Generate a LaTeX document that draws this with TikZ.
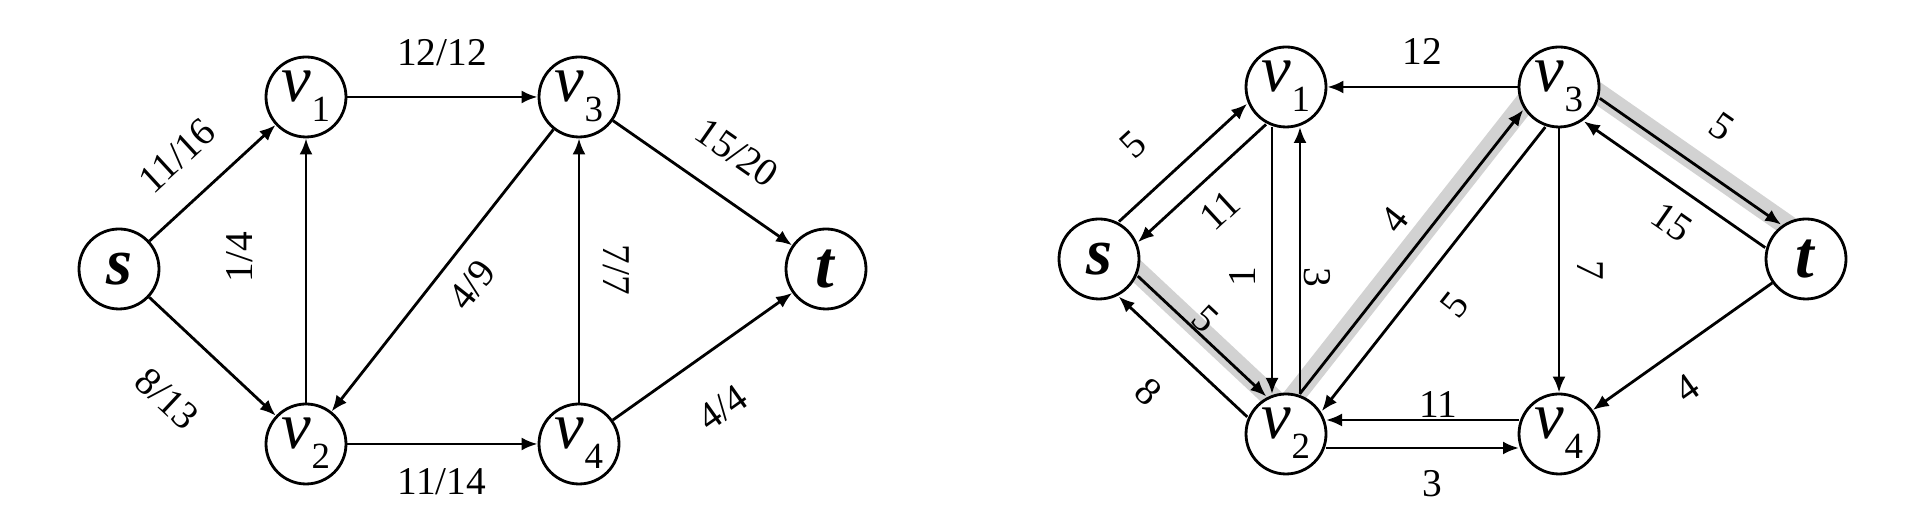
\documentclass[tikz,border=0pt]{standalone}
\usepackage{fontspec}
\setmainfont{Liberation Serif}
\usetikzlibrary{arrows.meta}
\usetikzlibrary{calc}
\usetikzlibrary{backgrounds}
\tikzstyle{line} = [draw, line width=0.8pt, -{Latex[length=1.6mm,width=1.3mm]}]
\tikzstyle{vertex} = [draw, circle, line width=0.8pt, fill=white, minimum size=0.8cm, inner sep=0pt, font=\fontsize{19}{19}\selectfont]
\tikzstyle{vsub} = [text height=0.3cm, text depth=0.2cm]
\tikzstyle{flow} = [inner sep=0pt, font=\fontsize{11.2}{12}\selectfont]
\tikzstyle{band} = [draw=gray!35, line width=0.21cm]
\newcommand{\vx}[1]{\textit{v}\raisebox{-0.2cm}{\fontsize{10.5}{10.5}\selectfont #1}}
% residual edge, offset to one side of the centre line
\newcommand{\pedge}[3]{%
  \path ($(#1)!0.14cm!#3:(#2)$) coordinate (pa);
  \draw[line, shorten <=0.4cm, shorten >=0.4cm] (pa) -- ($(#2)+(pa)-(#1)$);}
% grey band under the augmenting path
\newcommand{\hband}[3]{%
  \path ($(#1)!0.17cm!#3:(#2)$) coordinate (pb);
  \draw[band] (pb) -- ($(#2)+(pb)-(#1)$);}

\begin{document}
\begin{tikzpicture}
\useasboundingbox (0,0) rectangle (19.2,5.32);
% flow network
\node[vertex] (s) at (1.19,2.63) {\textbf{\textit{s}}};
\node[vertex,vsub] (v1) at (3.06,4.35) {\vx{1}};
\node[vertex,vsub] (v2) at (3.06,0.88) {\vx{2}};
\node[vertex,vsub] (v3) at (5.79,4.35) {\vx{3}};
\node[vertex,vsub] (v4) at (5.79,0.88) {\vx{4}};
\node[vertex] (t) at (8.26,2.63) {\textbf{\textit{t}}};
\draw[line] (s) -- (v1);
\draw[line] (s) -- (v2);
\draw[line] (v2) -- (v1);
\draw[line] (v1) -- (v3);
\draw[line] (v3) -- (v2);
\draw[line] (v2) -- (v4);
\draw[line] (v4) -- (v3);
\draw[line] (v3) -- (t);
\draw[line] (v4) -- (t);
\node[flow,rotate=42.6] (f-sv1) at (1.77,3.76) {11/16};
\node[flow,rotate=-43.1] (f-sv2) at (1.67,1.33) {8/13};
\node[flow,rotate=90] (f-v2v1) at (2.40,2.75) {1/4};
\node[flow] (f-v1v3) at (4.42,4.795) {12/12};
\node[flow,rotate=51.8] (f-v3v2) at (4.72,2.47) {4/9};
\node[flow] (f-v2v4) at (4.42,0.50) {11/14};
\node[flow,rotate=-90] (f-v4v3) at (6.16,2.62) {7/7};
\node[flow,rotate=-34.9] (f-v3t) at (7.37,3.79) {15/20};
\node[flow,rotate=35.3] (f-v4t) at (7.23,1.24) {4/4};
% residual network
\begin{scope}[xshift=9.8cm,yshift=0.1cm]
\node[vertex] (rs) at (1.19,2.63) {\textbf{\textit{s}}};
\node[vertex,vsub] (rv1) at (3.06,4.35) {\vx{1}};
\node[vertex,vsub] (rv2) at (3.06,0.88) {\vx{2}};
\node[vertex,vsub] (rv3) at (5.79,4.35) {\vx{3}};
\node[vertex,vsub] (rv4) at (5.79,0.88) {\vx{4}};
\node[vertex] (rt) at (8.26,2.63) {\textbf{\textit{t}}};
\node[flow,rotate=42.6] (r-sv1) at (1.53,3.77) {5};
\node[flow,rotate=42.6] (r-v1s) at (2.40,3.12) {11};
\node[flow,rotate=90] (r-v1v2) at (2.62,2.45) {1};
\node[flow,rotate=-90] (r-v2v1) at (3.37,2.45) {3};
\node[flow,rotate=-43.1] (r-sv2) at (2.25,2.03) {5};
\node[flow,rotate=-43.1] (r-v2s) at (1.68,1.30) {8};
\node[flow] (r-v3v1) at (4.42,4.71) {12};
\node[flow,rotate=51.8] (r-v2v3) at (4.14,3.02) {4};
\node[flow,rotate=51.8] (r-v3v2) at (4.75,2.17) {5};
\node[flow,rotate=-90] (r-v3v4) at (6.10,2.52) {7};
\node[flow,rotate=-34.9] (r-v3t) at (7.42,3.95) {5};
\node[flow,rotate=-34.9] (r-tv3) at (6.92,3.00) {15};
\node[flow,rotate=35.3] (r-tv4) at (7.07,1.34) {4};
\node[flow] (r-v4v2) at (4.58,1.17) {11};
\node[flow] (r-v2v4) at (4.52,0.38) {3};
\end{scope}
\begin{scope}[on background layer]
\hband{rs}{rv2}{90}
\hband{rv2}{rv3}{90}
\hband{rv3}{rt}{90}
\end{scope}
\pedge{rs}{rv1}{90}
\pedge{rv1}{rs}{90}
\pedge{rs}{rv2}{90}
\pedge{rv2}{rs}{90}
\pedge{rv1}{rv2}{-90}
\pedge{rv2}{rv1}{-90}
\pedge{rv2}{rv3}{90}
\pedge{rv3}{rv2}{90}
\pedge{rv3}{rt}{90}
\pedge{rt}{rv3}{90}
\pedge{rv4}{rv2}{-90}
\pedge{rv2}{rv4}{-90}
\draw[line] (rv3) -- (rv1);
\draw[line] (rv3) -- (rv4);
\draw[line] (rt) -- (rv4);
\end{tikzpicture}
\end{document}
